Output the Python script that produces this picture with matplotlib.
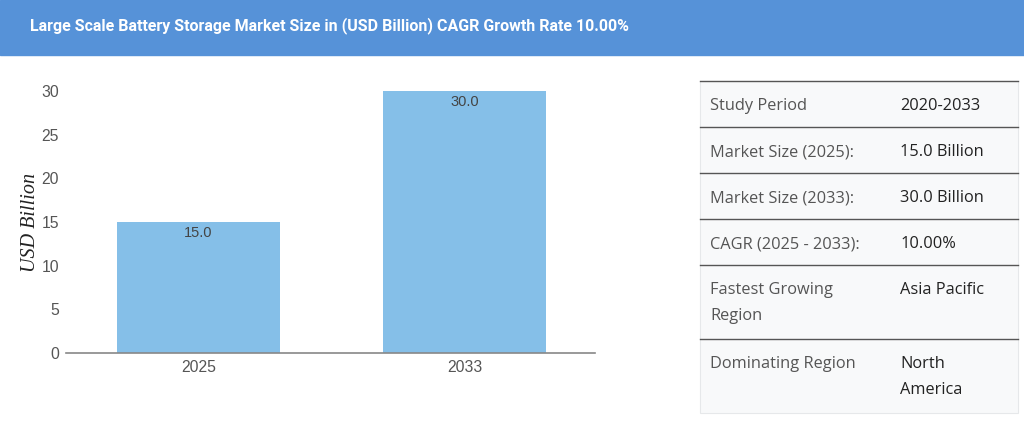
import matplotlib.pyplot as plt

# chart data
years = ['2025', '2033']
market_size = [15.0, 30.0]
y_ticks = [0, 5, 10, 15, 20, 25, 30]

# summary table data
row_labels = ['Study Period', 'Market Size (2025):', 'Market Size (2033):',
              'CAGR (2025 - 2033):', 'Fastest Growing\nRegion', 'Dominating Region']
row_values = ['2020-2033', '15.0 Billion', '30.0 Billion', '10.00%',
              'Asia Pacific', 'North\nAmerica']

title = 'Large Scale Battery Storage Market Size in (USD Billion) CAGR Growth Rate 10.00%'

fig = plt.figure(figsize=(10.24, 4.29), dpi=100)
fig.patch.set_facecolor('white')

# overlay in pixel coords for header band and table
bg = fig.add_axes([0, 0, 1, 1])
bg.set_xlim(0, 1024)
bg.set_ylim(429, 0)
bg.axis('off')

bg.add_patch(plt.Rectangle((0, 0), 1024, 55, color='#5692d8', zorder=0))
bg.text(30, 26, title, color='white', fontsize=11.5, fontweight='bold',
        family='Roboto', va='center', ha='left')

# table
row_bounds = [81, 127, 173, 219, 265, 339, 413]
tab_left, tab_right, col2 = 700, 1018, 900
bg.add_patch(plt.Rectangle((tab_left, row_bounds[0]), tab_right - tab_left,
                           row_bounds[-1] - row_bounds[0],
                           facecolor='#f8f9fa', edgecolor='#e6e8ea', lw=0.8, zorder=1))
for yb in row_bounds[:-1]:
    bg.plot([tab_left, tab_right], [yb, yb], color='#555555', lw=1.0, zorder=2)
for i, (lab, val) in enumerate(zip(row_labels, row_values)):
    top = row_bounds[i]
    bg.text(tab_left + 10, top + 17.5, lab, color='#555555', fontsize=11.8,
            family='Open Sans', va='top', ha='left', linespacing=1.83, zorder=3)
    bg.text(col2, top + 17.5, val, color='#222222', fontsize=11.8,
            family='Open Sans', va='top', ha='left', linespacing=1.83, zorder=3)

# bar chart
ax = fig.add_axes([66 / 1024, 76 / 429, 529 / 1024, 262 / 429])
x = range(len(years))
bars = ax.bar(x, market_size, width=0.613, color='#85bfe8', zorder=2)
for b, v in zip(bars, market_size):
    ax.text(b.get_x() + b.get_width() / 2, v - 0.5, f'{v:.1f}', ha='center', va='top',
            fontsize=10.5, color='#444444', family='Liberation Sans')

ax.set_xlim(-0.498, 1.49)
ax.set_ylim(0, 30)
ax.set_xticks(list(x))
ax.set_xticklabels(years)
ax.set_yticks(y_ticks)
ax.tick_params(axis='both', length=0, labelsize=11.3, colors='#555555')
ax.tick_params(axis='x', pad=5)
ax.tick_params(axis='y', pad=5)
for lbl in ax.get_xticklabels() + ax.get_yticklabels():
    lbl.set_family('Liberation Sans')
for s in ['top', 'right', 'left']:
    ax.spines[s].set_visible(False)
ax.spines['bottom'].set_color('#888888')
ax.spines['bottom'].set_linewidth(1.2)
ax.set_ylabel('USD Billion', family='Liberation Serif', style='italic',
              fontsize=14.5, color='#222222', labelpad=1)

fig.savefig('out.png', dpi=100)
